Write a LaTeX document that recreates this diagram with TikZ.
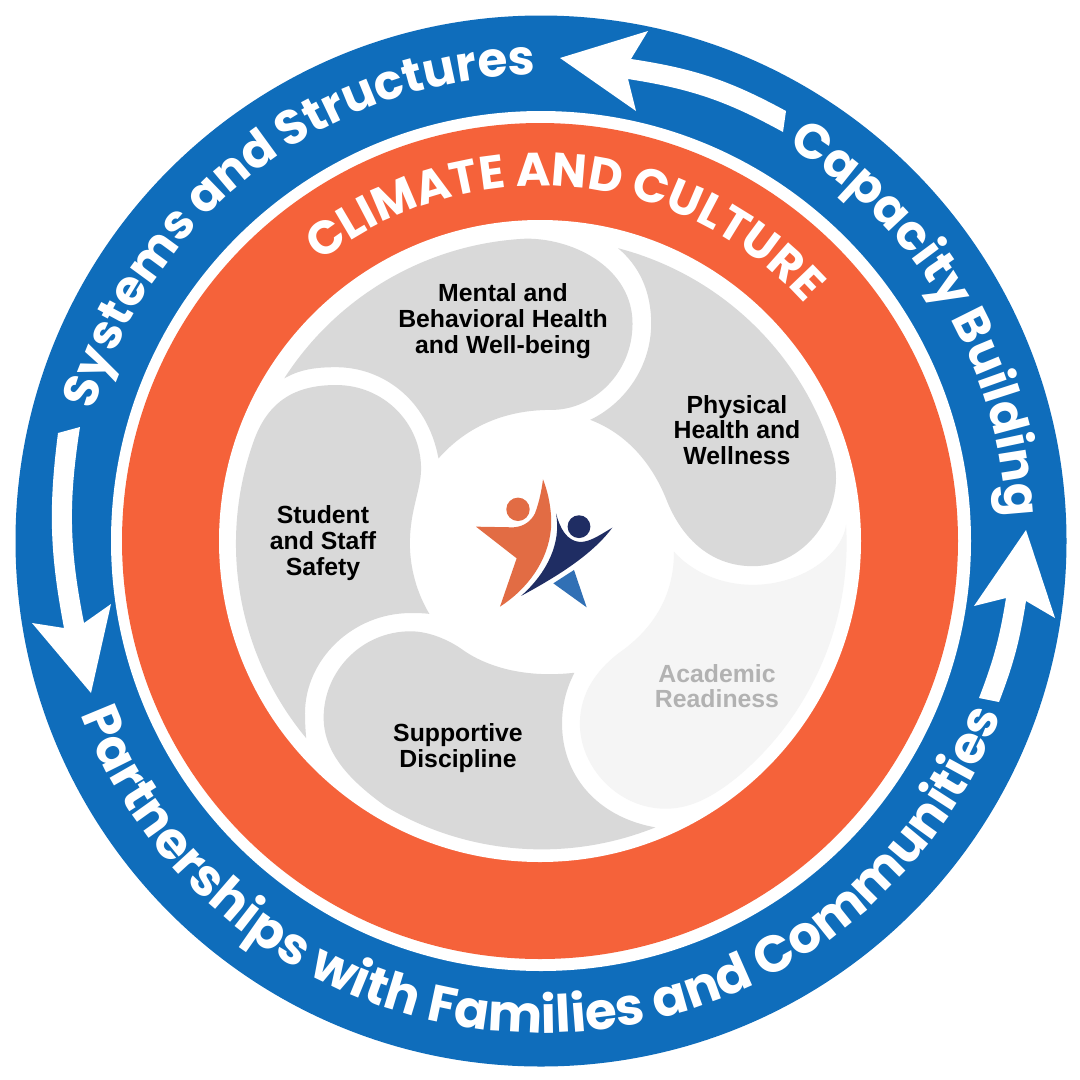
\documentclass[tikz,border=0pt]{standalone}
\usepackage{fontspec}
\usetikzlibrary{decorations.text}
\setmainfont{Liberation Sans}
\newfontfamily\popbold{Poppins}[BoldFont=* Bold]
\newfontfamily\poptighta{Poppins}[BoldFont=* Bold,LetterSpace=-2.5]
\newfontfamily\poptightb{Poppins}[BoldFont=* Bold,LetterSpace=-4]
\definecolor{ringblue}{HTML}{0F6DBB}
\definecolor{ringorange}{HTML}{F5623A}
\definecolor{petalgray}{HTML}{D9D9D9}
\definecolor{petallight}{HTML}{F5F5F5}
\definecolor{labelfade}{HTML}{B2B2B2}
\definecolor{logoorange}{HTML}{E26C44}
\definecolor{logonavy}{HTML}{1F2D63}
\definecolor{logoblue}{HTML}{3170B5}
\newcommand\systemsfont{\color{white}\poptighta\bfseries\fontsize{48.5}{49}\selectfont}
\newcommand\capacityfont{\color{white}\poptightb\bfseries\fontsize{49}{49}\selectfont}
\newcommand\partnerfont{\color{white}\popbold\bfseries\fontsize{51.5}{52}\selectfont}
\newcommand\climatefont{\color{white}\popbold\bfseries\fontsize{47}{47}\selectfont}
\tikzset{
  petal/.style={fill=petalgray},
  petalfaded/.style={fill=petallight},
  arrowshape/.style={fill=white},
  petallabel/.style={font=\bfseries\fontsize{24.8}{25.7}\selectfont,align=center,inner sep=0pt,text=black},
  zoomcoords/.style={shift={(220,220)},x=0.4146pt,y=-0.4146pt},
  logocoords/.style={shift={(450,460)},x=0.3333pt,y=-0.3333pt}
}
\begin{document}
\begin{tikzpicture}[x=1pt,y=-1pt]
\useasboundingbox (0,0) rectangle (1080,1080);
\fill[white] (0,0) rectangle (1080,1080);
\fill[ringblue] (541,541) circle[radius=525.5pt];
\fill[white] (541,541) circle[radius=430pt];
\fill[ringorange] (540,541) circle[radius=418pt];
\fill[white] (540,541) circle[radius=321pt];
% petals
\begin{scope}[zoomcoords]
\fill[petal] (155,382) arc[start angle=147.3,end angle=92.7,radius=304.7pt]
  .. controls (860,45) and (995,120) .. (995,250)
  .. controls (995,370) and (900,458) .. (800,458)
  .. controls (735,458) and (620,470) .. (527,575)
  .. controls (500,430) and (390,355) .. (280,355)
  .. controls (225,355) and (190,362) .. (155,382) -- cycle;
\fill[petal] (960,68) arc[start angle=75.4,end angle=17,radius=304.7pt]
  .. controls (1515,690) and (1420,835) .. (1285,835)
  .. controls (1190,835) and (1115,775) .. (1075,670)
  .. controls (1040,585) and (980,515) .. (893,482)
  .. controls (980,440) and (1040,350) .. (1040,250)
  .. controls (1040,170) and (1010,110) .. (960,68) -- cycle;
\fill[petalfaded] (1510,735) arc[start angle=3.5,end angle=-50,radius=304.7pt]
  .. controls (1190,1391) and (1135,1420) .. (1075,1420)
  .. controls (960,1420) and (868,1320) .. (868,1215)
  .. controls (868,1140) and (910,1080) .. (975,1035)
  .. controls (1060,970) and (1095,890) .. (1095,800)
  .. controls (1140,850) and (1210,880) .. (1285,880)
  .. controls (1400,880) and (1500,810) .. (1510,735) -- cycle;
\fill[petal] (1050,1465) arc[start angle=-68.1,end angle=-120.7,radius=304.7pt]
  .. controls (320,1357) and (250,1290) .. (250,1200)
  .. controls (250,1090) and (340,992) .. (460,992)
  .. controls (500,992) and (550,1010) .. (590,1040)
  .. controls (650,1080) and (740,1105) .. (855,1092)
  .. controls (835,1130) and (825,1170) .. (825,1215)
  .. controls (825,1340) and (910,1440) .. (1050,1465) -- cycle;
\fill[petal] (208,1250) arc[start angle=219.7,end angle=160,radius=304.7pt]
  .. controls (121,426) and (195,398) .. (280,398)
  .. controls (395,398) and (485,490) .. (485,600)
  .. controls (485,650) and (458,700) .. (458,780)
  .. controls (458,840) and (475,900) .. (505,950)
  .. controls (490,948) and (475,948) .. (460,948)
  .. controls (320,948) and (205,1060) .. (205,1190)
  .. controls (205,1210) and (206,1230) .. (208,1250) -- cycle;
\end{scope}
% logo
\begin{scope}[logocoords]
\fill[logoorange] (279,58) .. controls (300,110) and (306,170) .. (303,205)
  .. controls (295,300) and (235,385) .. (150,440)
  -- (200,295)
  -- (78,200) -- (190,202)
  .. controls (225,200) and (245,180) .. (255,160)
  .. controls (268,125) and (275,90) .. (279,58) -- cycle;
\fill[logoorange] (204,148) circle[radius=11.7pt];
\fill[logonavy] (318,160) .. controls (330,205) and (350,243) .. (390,246)
  .. controls (420,246) and (450,225) .. (487,203)
  .. controls (430,280) and (330,345) .. (213,408)
  .. controls (290,340) and (335,250) .. (318,160) -- cycle;
\fill[logonavy] (387,200) circle[radius=11.4pt];
\fill[logoblue] (372,330) -- (410,442) -- (310,370) -- cycle;
\end{scope}
% arrows
\fill[arrowshape] (560,58) -- (648,31) -- (631,59) to[bend left=10] (786,111)
  -- (783,132) to[bend right=10] (628,79) -- (636,111) -- cycle;
\fill[arrowshape] (1026,530) -- (1055,618) -- (1026,601) to[bend left=6] (999,702)
  -- (979,698) to[bend right=6] (1006,598) -- (974,606) -- cycle;
\fill[arrowshape] (91,693) -- (32,623) -- (64,628) to[bend left=9] (58,433)
  -- (80,427) to[bend right=10] (84,623) -- (111,604) -- cycle;
% ring texts
\path[decorate,decoration={text along path,text align=center,text={|\systemsfont|Systems and Structures}}]
  (541,541) ++(175.7:466pt) arc[start angle=175.7,end angle=78.7,radius=466pt];
\path[decorate,decoration={text along path,text align=center,text={|\capacityfont|Capacity Building}}]
  (541,541) ++(70.5:466pt) arc[start angle=70.5,end angle=-9.5,radius=466pt];
\path[decorate,decoration={text along path,text align=center,text={|\partnerfont|Partnerships with Families and Communities}}]
  (541,541) ++(190:492pt) arc[start angle=190,end angle=350,radius=492pt];
\path[decorate,decoration={text along path,text align=center,text={|\climatefont|CLIMATE AND CULTURE}}]
  (540,541) ++(145:355pt) arc[start angle=145,end angle=25,radius=355pt];
% labels
\node[petallabel] (mental) at (503,321) {Mental and\\Behavioral Health\\and Well-being};
\node[petallabel] (physical) at (737,430) {Physical\\Health and\\Wellness};
\node[petallabel] (student) at (323,543) {Student\\and Staff\\Safety};
\node[petallabel] (supportive) at (458,748) {Supportive\\Discipline};
\node[petallabel,text=labelfade] (academic) at (717,686) {Academic\\Readiness};
\end{tikzpicture}
\end{document}
